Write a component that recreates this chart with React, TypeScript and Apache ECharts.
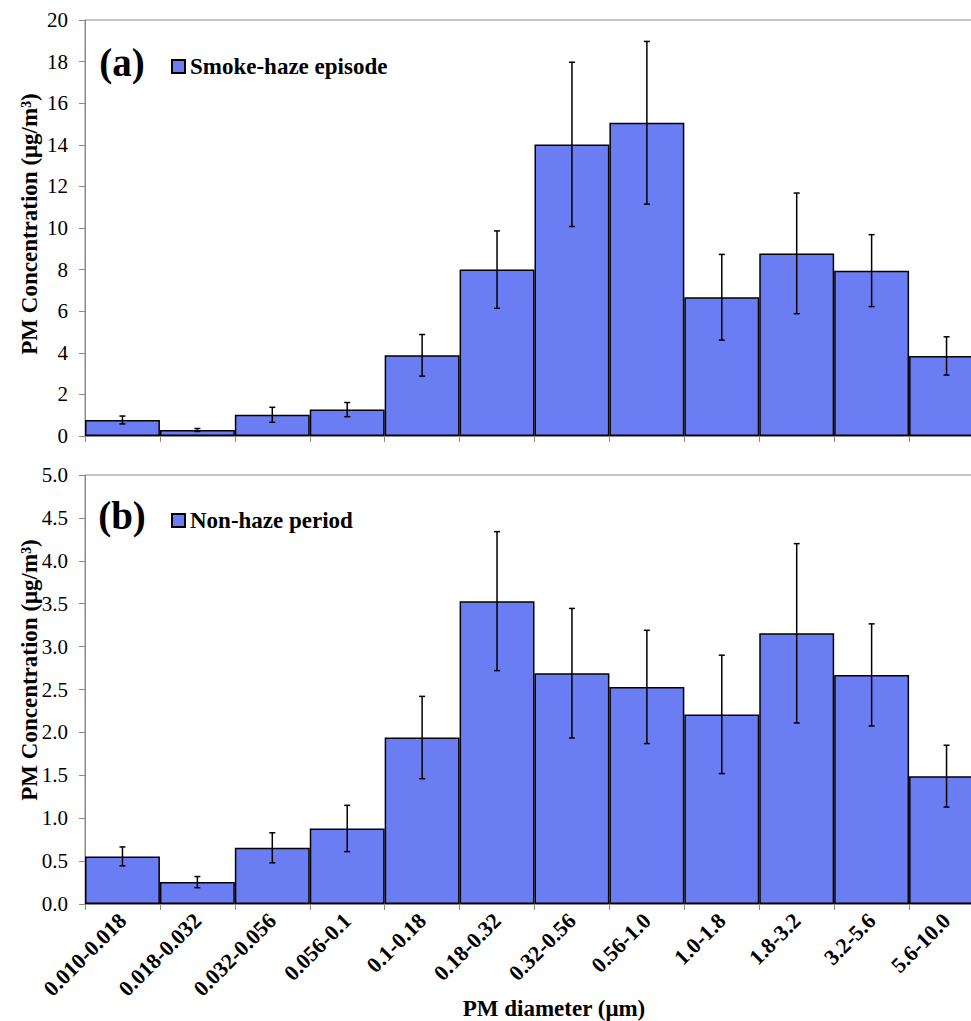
import React, { useEffect, useRef } from "react";
import * as echarts from "echarts";

const categories = [
  "0.010-0.018", "0.018-0.032", "0.032-0.056", "0.056-0.1", "0.1-0.18", "0.18-0.32",
  "0.32-0.56", "0.56-1.0", "1.0-1.8", "1.8-3.2", "3.2-5.6", "5.6-10.0",
];

const hazeMean = [0.77, 0.29, 1.02, 1.27, 3.88, 8.0, 14.02, 15.06, 6.67, 8.78, 7.95, 3.85];
const hazeErr = [0.19, 0.07, 0.36, 0.34, 1.0, 1.86, 3.95, 3.91, 2.06, 2.9, 1.73, 0.92];

const nonHazeMean = [0.555, 0.255, 0.655, 0.88, 1.94, 3.53, 2.69, 2.53, 2.21, 3.155, 2.67, 1.49];
const nonHazeErr = [0.11, 0.065, 0.175, 0.27, 0.48, 0.81, 0.755, 0.66, 0.69, 1.045, 0.595, 0.36];

const topTicks = { min: 0, max: 20, interval: 2 };
const bottomTicks = { min: 0, max: 5, interval: 0.5 };

const SERIF = "'Liberation Serif', 'Times New Roman', serif";
const BAR = "#6B7DF2";
const GRAY = "#8a8a8a";

function errorRender(params: any, api: any) {
  const x = api.value(0);
  const m = api.value(1);
  const e = api.value(2);
  const top = api.coord([x, m + e]);
  const bot = api.coord([x, m - e]);
  const cap = 3;
  const style = { stroke: "#000", lineWidth: 1.5 };
  return {
    type: "group",
    children: [
      { type: "line", shape: { x1: top[0], y1: top[1], x2: bot[0], y2: bot[1] }, style },
      { type: "line", shape: { x1: top[0] - cap, y1: top[1], x2: top[0] + cap, y2: top[1] }, style },
      { type: "line", shape: { x1: bot[0] - cap, y1: bot[1], x2: bot[0] + cap, y2: bot[1] }, style },
    ],
  };
}

export default function App() {
  const ref = useRef<HTMLDivElement>(null);
  useEffect(() => {
    if (!ref.current) return;
    const chart = echarts.init(ref.current, undefined, { renderer: "svg" });
    const yAxisCommon = {
      type: "value",
      axisLine: { show: true, lineStyle: { color: GRAY, width: 1 } },
      axisTick: { show: true, length: 6, lineStyle: { color: GRAY } },
      splitLine: { show: false },
      axisLabel: { color: "#000", fontFamily: SERIF, fontSize: 21, margin: 17 },
    };
    const xAxisCommon = {
      type: "category",
      data: categories,
      boundaryGap: true,
      axisLine: { show: true, lineStyle: { color: GRAY, width: 1 } },
      axisTick: { show: true, length: 6, interval: 0, lineStyle: { color: GRAY } },
    };
    const legendText = { fontFamily: SERIF, fontWeight: "bold", fontSize: 23, color: "#000" };
    const option: any = {
      animation: false,
      backgroundColor: "#fff",
      grid: [
        { left: 85, top: 20, right: 0, height: 416, show: true, borderColor: GRAY, borderWidth: 1 },
        { left: 85, top: 475, right: 0, height: 429, show: true, borderColor: GRAY, borderWidth: 1 },
      ],
      xAxis: [
        { ...xAxisCommon, gridIndex: 0, axisLabel: { show: false } },
        {
          ...xAxisCommon,
          gridIndex: 1,
          axisLabel: {
            interval: 0,
            rotate: 45,
            color: "#000",
            fontFamily: SERIF,
            fontWeight: "bold",
            fontSize: 22,
            margin: 13,
          },
        },
      ],
      yAxis: [
        { ...yAxisCommon, gridIndex: 0, ...topTicks },
        {
          ...yAxisCommon,
          gridIndex: 1,
          ...bottomTicks,
          axisLabel: { ...yAxisCommon.axisLabel, formatter: (v: number) => v.toFixed(1) },
        },
      ],
      legend: [
        {
          data: ["Smoke-haze episode"],
          left: 166,
          top: 50,
          icon: "rect",
          itemWidth: 13,
          itemHeight: 13,
          itemGap: 5,
          textStyle: legendText,
        },
        {
          data: ["Non-haze period"],
          left: 166,
          top: 504,
          icon: "rect",
          itemWidth: 13,
          itemHeight: 13,
          itemGap: 5,
          textStyle: legendText,
        },
      ],
      series: [
        {
          name: "Smoke-haze episode",
          type: "bar",
          xAxisIndex: 0,
          yAxisIndex: 0,
          data: hazeMean,
          barCategoryGap: "0%",
          itemStyle: { color: BAR, borderColor: "#000", borderWidth: 1.5 },
        },
        {
          name: "Non-haze period",
          type: "bar",
          xAxisIndex: 1,
          yAxisIndex: 1,
          data: nonHazeMean,
          barCategoryGap: "0%",
          itemStyle: { color: BAR, borderColor: "#000", borderWidth: 1.5 },
        },
        {
          type: "custom",
          xAxisIndex: 0,
          yAxisIndex: 0,
          renderItem: errorRender,
          data: hazeMean.map((m, i) => [i, m, hazeErr[i]]),
          z: 10,
        },
        {
          type: "custom",
          xAxisIndex: 1,
          yAxisIndex: 1,
          renderItem: errorRender,
          data: nonHazeMean.map((m, i) => [i, m, nonHazeErr[i]]),
          z: 10,
        },
      ],
      graphic: [
        {
          type: "text",
          x: 122,
          y: 62,
          style: { text: "(a)", font: `bold 39px ${SERIF}`, fill: "#000", align: "center", verticalAlign: "middle" },
        },
        {
          type: "text",
          x: 122,
          y: 515,
          style: { text: "(b)", font: `bold 39px ${SERIF}`, fill: "#000", align: "center", verticalAlign: "middle" },
        },
        {
          type: "text",
          x: 29,
          y: 224,
          rotation: Math.PI / 2,
          style: {
            text: "PM Concentration (μg/m³)",
            font: `bold 23px ${SERIF}`,
            fill: "#000",
            align: "center",
            verticalAlign: "middle",
          },
        },
        {
          type: "text",
          x: 29,
          y: 670,
          rotation: Math.PI / 2,
          style: {
            text: "PM Concentration (μg/m³)",
            font: `bold 23px ${SERIF}`,
            fill: "#000",
            align: "center",
            verticalAlign: "middle",
          },
        },
        {
          type: "text",
          x: 554,
          y: 1008,
          style: {
            text: "PM diameter (μm)",
            font: `bold 23px ${SERIF}`,
            fill: "#000",
            align: "center",
            verticalAlign: "middle",
          },
        },
      ],
    };
    chart.setOption(option);
    return () => chart.dispose();
  }, []);
  return (
    <div
      style={{ position: "fixed", left: 0, top: 0, width: 971, height: 1021, overflow: "hidden", background: "#fff" }}
    >
      <div ref={ref} style={{ width: 984, height: 1021 }} />
    </div>
  );
}
